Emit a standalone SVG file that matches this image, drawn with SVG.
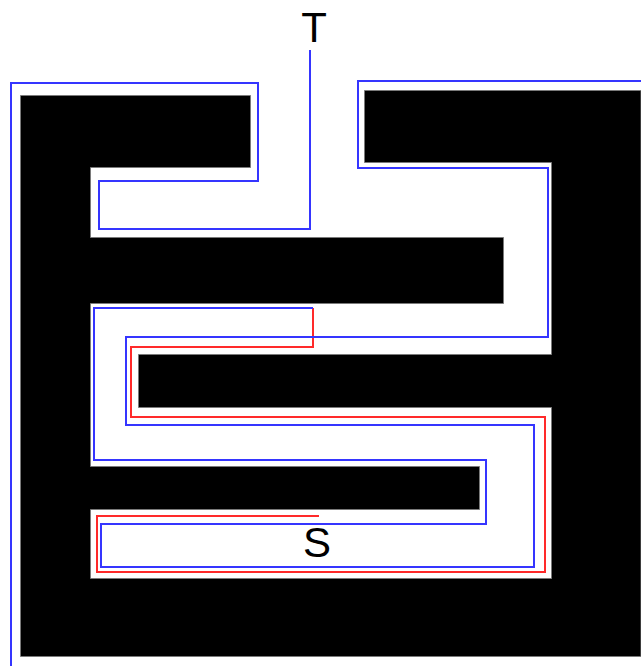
<svg xmlns="http://www.w3.org/2000/svg" width="641" height="666" viewBox="0 0 641 666">
  <style>
    .wall { fill: #000; stroke: #7a7a7a; stroke-width: 1; }
    .route { fill: none; stroke-width: 2; stroke-linejoin: miter; }
    .blue { stroke: #3535ff; }
    .red { stroke: #ff2a2a; }
    .label { font-family: "Liberation Sans", Arial, sans-serif; font-size: 42px; fill: #000; text-anchor: middle; }
  </style>
  <rect width="641" height="666" fill="#fff"/>

  <!-- maze walls: one connected block with the corridors cut out -->
  <g id="maze">
    <path class="wall" d="M20.5,95.5 H250.5 V167.5 H90.5 V237.5 H503.5 V303.5 H90.5 V466.5 H479.5 V509.5 H90.5 V578.5 H551.5 V407.5 H138.5 V354.5 H551.5 V162.5 H364.5 V90.5 H641 V656.5 H20.5 Z"/>
  </g>

  <!-- traced routes -->
  <g id="routes">
    <path class="route red" d="M319,516 H97 V572 H545 V417 H131 V347 H313 V308"/>
    <path class="route blue" d="M310,50 V229 H99 V181 H258 V83 H11 V666"/>
    <path class="route blue" d="M641,81 H358 V168 H548 V337 H126 V425 H534 V567 H101 V524 H486 V460 H94 V308 H313"/>
  </g>

  <!-- endpoints -->
  <g id="target">
    <text class="label" x="314" y="42">T</text>
  </g>
  <g id="source">
    <text class="label" x="317" y="557">S</text>
  </g>
</svg>
